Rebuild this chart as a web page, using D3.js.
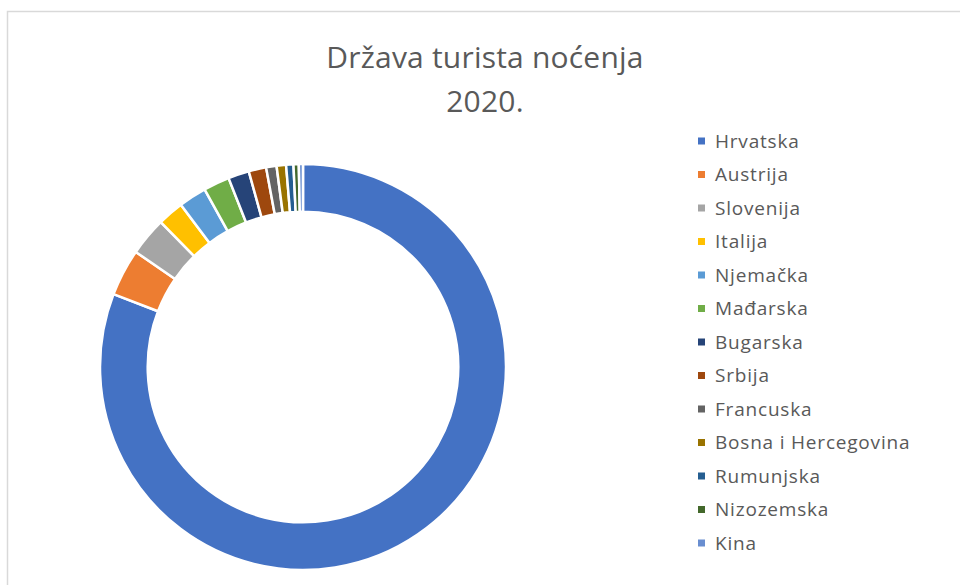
<!DOCTYPE html>
<html>
<head>
<meta charset="utf-8">
<script src="https://cdn.jsdelivr.net/npm/d3@7"></script>
<style>
  body { margin: 0; background: #fff; }
  svg { display: block; font-family: "Open Sans", sans-serif; }
</style>
</head>
<body>
<svg id="chart" width="960" height="585"></svg>
<script>
const countries = ["Hrvatska", "Austrija", "Slovenija", "Italija", "Njemačka",
    "Mađarska", "Bugarska", "Srbija", "Francuska", "Bosna i Hercegovina",
    "Rumunjska", "Nizozemska", "Kina"]

// share of nights (%)
const shares = [80.8, 3.75, 3.05, 2.08, 2.22, 2.08, 1.67, 1.39, 0.83, 0.75, 0.58, 0.42, 0.33]

const colors = ["#4472C4", "#ED7D31", "#A5A5A5", "#FFC000", "#5B9BD5", "#70AD47",
    "#264478", "#9E480E", "#636363", "#997300", "#255E91", "#43682B", "#698ED0"]

const titleLines = ["Država turista noćenja", "2020."]

const svg = d3.select("#chart")

// chart frame (only top/left edges are inside the window)
svg.append("rect")
    .attr("x", 7.5).attr("y", 11.5)
    .attr("width", 1000).attr("height", 700)
    .attr("fill", "none")
    .attr("stroke", "#D9D9D9")
    .attr("stroke-width", 1.5)

svg.append("g")
    .selectAll("text")
    .data(titleLines)
    .enter()
    .append("text")
    .attr("x", 485)
    .attr("y", (d, i) => 68 + i * 44)
    .attr("text-anchor", "middle")
    .attr("fill", "#595959")
    .style("font-size", "30px")
    .style("letter-spacing", "0.2px")
    .text(d => d)

const data = countries.map((c, i) => ({ name: c, value: shares[i] }))

const color = d3.scaleOrdinal().domain(countries).range(colors)

const pie = d3.pie()
    .sort(null)
    .value(d => d.value)

const outerR = 203
const arc = d3.arc()
    .innerRadius(outerR * 0.765)
    .outerRadius(outerR)

svg.append("g")
    .attr("transform", "translate(303,367)")
    .selectAll("path")
    .data(pie(data))
    .enter()
    .append("path")
    .attr("d", arc)
    .attr("fill", d => color(d.data.name))
    .attr("stroke", "#fff")
    .attr("stroke-width", 2.5)
    .attr("stroke-linejoin", "round")

const rowY = d3.scaleLinear()
    .domain([0, countries.length - 1])
    .range([141, 543])

const legend = svg.append("g")
    .selectAll("g")
    .data(countries)
    .enter()
    .append("g")
    .attr("transform", (d, i) => `translate(698,${rowY(i)})`)

legend.append("rect")
    .attr("x", 0).attr("y", -3.5)
    .attr("width", 7).attr("height", 7)
    .attr("fill", d => color(d))

legend.append("text")
    .attr("x", 17)
    .attr("y", 0)
    .attr("dy", "0.35em")
    .attr("fill", "#595959")
    .style("font-size", "19px")
    .style("letter-spacing", "0.8px")
    .text(d => d)
</script>
</body>
</html>
